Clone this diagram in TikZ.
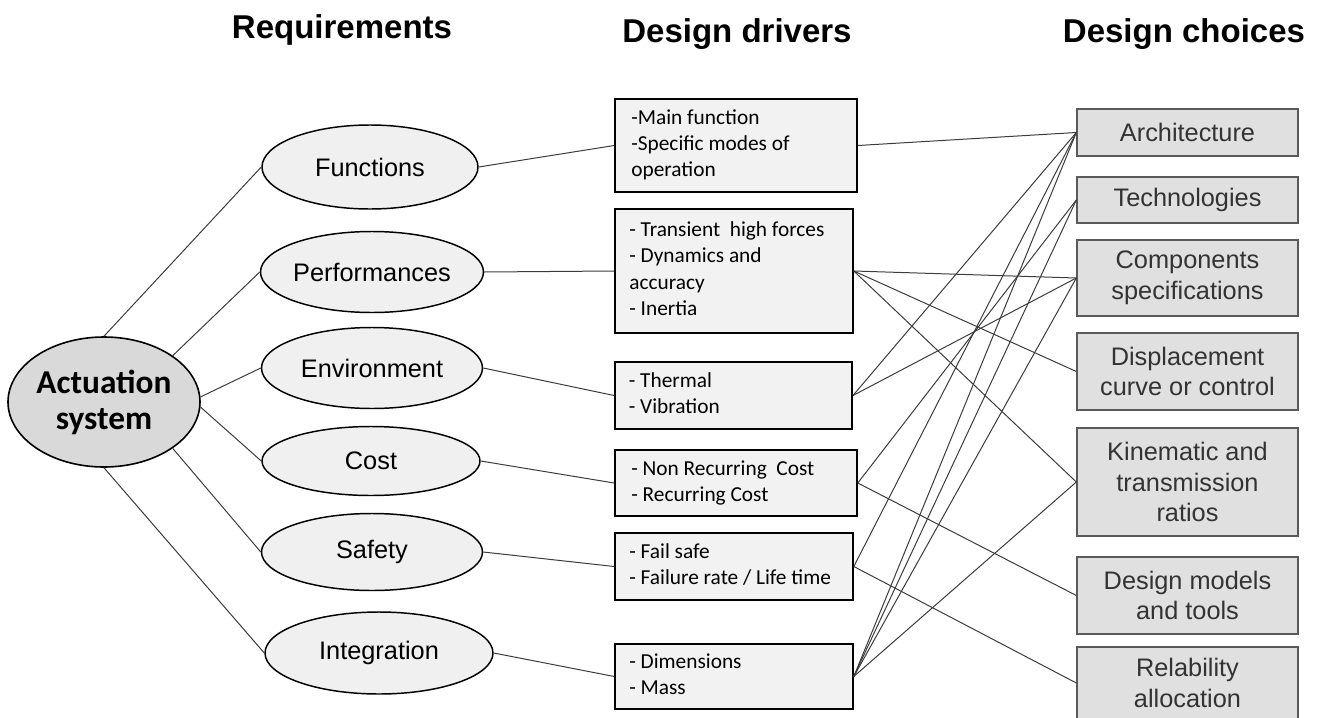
\documentclass[tikz,border=0pt]{standalone}
\usepackage{fontspec}
\setmainfont{Liberation Sans}
\newfontfamily\calfont{Carlito}
\usetikzlibrary{shapes.geometric}
\definecolor{ln}{HTML}{3C3C3C}
\definecolor{reqfill}{HTML}{F0F0F0}
\definecolor{actfill}{HTML}{D9D9D9}
\definecolor{drvfill}{HTML}{F2F2F2}
\definecolor{chofill}{HTML}{E0E0E0}
\definecolor{chodraw}{HTML}{5A5A5A}
\definecolor{chotext}{HTML}{333333}
\newcommand{\drvtext}[1]{\makebox[157pt][l]{\begin{tabular}{@{}l@{}}#1\end{tabular}}}
\begin{document}
\begin{tikzpicture}[x=0.75pt,y=-0.75pt,
  req/.style={ellipse, draw=black, line width=1.1pt, fill=reqfill, inner sep=0pt,
    font=\fontsize{19}{22}\selectfont},
  drv/.style={rectangle, draw=black, line width=1.2pt, fill=drvfill, inner xsep=10.5pt,
    inner ysep=0pt, font=\calfont\fontsize{16}{19.5}\selectfont},
  cho/.style={rectangle, draw=chodraw, line width=1pt, fill=chofill, text=chotext,
    align=center, minimum width=165.75pt, inner sep=0pt,
    font=\fontsize{19}{23}\selectfont},
  hdr/.style={font=\bfseries\fontsize{24.75}{28}\selectfont, anchor=base},
  con/.style={draw=ln, line width=0.75pt}
]
\useasboundingbox (0,0) rectangle (1322,718);

% headers
\node[hdr] (h1) at (342,38) {Requirements};
\node[hdr] (h2) at (737,42) {Design drivers};
\node[hdr] (h3) at (1184,42) {Design choices};

% root
\node[ellipse, draw=black, line width=1.2pt, fill=actfill, inner sep=0pt,
  minimum width=144pt, minimum height=97.5pt, align=center,
  font=\calfont\bfseries\fontsize{25}{27}\selectfont] (act) at (104,402) {Actuation\\system};

% requirements
\node[req, minimum width=162pt, minimum height=63pt] (fun) at (370,167) {Functions};
\node[req, minimum width=165.75pt, minimum height=60.75pt] (perf) at (372,272) {Performances};
\node[req, minimum width=165.75pt, minimum height=60.75pt] (env) at (372,368) {Environment};
\node[req, minimum width=163.5pt, minimum height=51.75pt] (cost) at (371,461) {Cost};
\node[req, minimum width=165.75pt, minimum height=57.75pt] (saf) at (372,552) {Safety};
\node[req, minimum width=171pt, minimum height=61.5pt] (int) at (379,653) {Integration};

% design drivers
\node[drv, minimum width=181.5pt, minimum height=69.75pt] (d1) at (736,145.5)
  {\drvtext{-Main function\\-Specific modes of\\operation}};
\node[drv, minimum width=178.5pt, minimum height=93pt] (d2) at (734,271)
  {\drvtext{- Transient\ \ high forces\\- Dynamics and\\[1pt]accuracy\\- Inertia}};
\node[drv, minimum width=177.75pt, minimum height=50.25pt] (d3) at (733.5,395.5)
  {\drvtext{- Thermal\\- Vibration}};
\node[drv, minimum width=181.5pt, minimum height=49.5pt] (d4) at (736,483)
  {\drvtext{- Non Recurring\ \ Cost\\- Recurring Cost}};
\node[drv, minimum width=178.5pt, minimum height=50.25pt] (d5) at (734,566.5)
  {\drvtext{- Fail safe\\- Failure rate / Life time}};
\node[drv, minimum width=178.5pt, minimum height=48.75pt] (d6) at (734,676.5)
  {\drvtext{- Dimensions\\- Mass}};

% design choices
\node[cho, minimum height=35.25pt] (arch) at (1187.5,132.5) {Architecture};
\node[cho, minimum height=34.5pt] (tech) at (1187.5,200) {Technologies};
\node[cho, minimum height=57pt] (comp) at (1187.5,278) {Components\\specifications};
\node[cho, minimum height=57.75pt] (disp) at (1187.5,371.5) {Displacement\\curve or control};
\node[cho, minimum height=81pt] (kin) at (1187.5,482) {Kinematic and\\transmission\\ratios};
\node[cho, minimum height=57.75pt] (dm) at (1187.5,595.5) {Design models\\and tools};
\node[cho, minimum height=54pt] (rel) at (1187.5,683) {Relability\\allocation};

% root to requirements
\draw[con] (act.north) -- (fun.west);
\draw[con] (act.34) -- (perf.west);
\draw[con] (act.3) -- (env.west);
\draw[con] (act.-3) -- (cost.west);
\draw[con] (act.-34) -- (saf.west);
\draw[con] (act.south) -- (int.west);

% requirements to drivers
\draw[con] (fun.east) -- (d1.west);
\draw[con] (perf.east) -- (d2.west);
\draw[con] (env.east) -- (d3.west);
\draw[con] (cost.east) -- (d4.west);
\draw[con] (saf.east) -- (d5.west);
\draw[con] (int.east) -- (d6.west);

% drivers to choices
\draw[con] (d1.east) -- (arch.west);
\draw[con] (d2.east) -- (comp.west);
\draw[con] (d2.east) -- (disp.west);
\draw[con] (d2.east) -- (kin.west);
\draw[con] (d3.east) -- (arch.west);
\draw[con] (d3.east) -- (comp.west);
\draw[con] (d4.east) -- (tech.west);
\draw[con] (d4.east) -- (dm.west);
\draw[con] (d5.east) -- (arch.west);
\draw[con] (d5.east) -- (rel.west);
\draw[con] (d6.east) -- (arch.west);
\draw[con] (d6.east) -- (tech.west);
\draw[con] (d6.east) -- (comp.west);
\draw[con] (d6.east) -- (kin.west);
\end{tikzpicture}
\end{document}
